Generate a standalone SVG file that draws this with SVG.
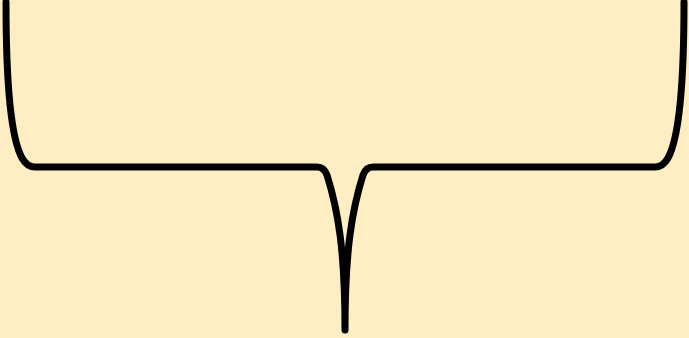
<svg xmlns="http://www.w3.org/2000/svg" width="689" height="338" viewBox="0 0 689 338">
<style>
.brace{fill:none;stroke:#000;stroke-width:7;stroke-linecap:round;stroke-linejoin:round}
</style>
<rect x="0" y="0" width="689" height="338" fill="#FFEEC4"/>
<g id="connectors">
<path class="brace" d="M6,2 C6,95 12,140 22,158 Q27,167 35,167 L317,167 Q324,167 327,175 C338,210 345,250 345,330 C345,250 352,210 363,175 Q366,167 373,167 L655,167 Q663,167 668,158 C678,140 684,95 684,2"/>
</g>
</svg>
